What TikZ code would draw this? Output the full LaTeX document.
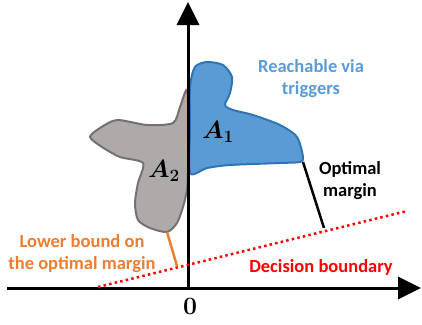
\documentclass[tikz,border=0pt]{standalone}
\usepackage{amsmath,amssymb,bm}
\usepackage[no-math]{fontspec}
\setmainfont{Carlito}
\usepackage{tikz}
\usetikzlibrary{arrows.meta,positioning}
\definecolor{reachblue}{HTML}{5B9BD5}
\definecolor{reachedge}{HTML}{2E75B6}
\definecolor{otherfill}{HTML}{AEAAAA}
\definecolor{otheredge}{HTML}{767171}
\definecolor{boundorange}{HTML}{ED7D31}

\begin{document}
\begin{tikzpicture}[x=1pt,y=-1pt,
  axis/.style={line width=3pt,-{Triangle[length=23pt,width=22pt]}},
  tagtext/.style={font=\fontsize{18.5}{22}\selectfont\bfseries,align=center,inner sep=0pt},
  settag/.style={font=\fontsize{26}{28}\selectfont,inner sep=0pt},
  regionA/.style={fill=reachblue,draw=reachedge,line width=2pt},
  regionB/.style={fill=otherfill,draw=otheredge,line width=2pt},
  margin/.style={line width=2.5pt}
]
  \useasboundingbox (0,0) rectangle (422,324);
  % regions
  \draw[regionB] plot[smooth cycle,tension=0.45] coordinates {
    (187,90) (180,107) (173,123) (147,125) (117,120) (100,128) (90,137)
    (102,147) (120,157) (143,163) (138,183) (135,203) (138,220) (150,228)
    (167,232) (177,223) (183,207) (187,190) (188,173) (189,130)};
  \draw[regionA] plot[smooth cycle,tension=0.45] coordinates {
    (190,87) (195,67) (207,62) (223,65) (232,77) (230,93) (225,105)
    (233,110) (253,115) (280,125) (297,137) (303,157) (300,162) (280,163)
    (230,165) (207,168) (190,173) (190,130)};
  % axes
  \coordinate (origin) at (188,288);
  \coordinate (ytip) at (188,2);
  \coordinate (xstart) at (7,288);
  \coordinate (xtip) at (421,288);
  \draw[axis] (origin) -- (ytip);
  \draw[axis] (xstart) -- (xtip);
  % decision boundary and margins
  \coordinate (bnd-s) at (98,287);
  \coordinate (bnd-e) at (407,211);
  \draw[red,line width=2.5pt,dash pattern=on 2.5pt off 3.2pt] (bnd-s) -- (bnd-e);
  \coordinate (opt-top) at (303,162);
  \coordinate (opt-foot) at (324,228);
  \draw[margin] (opt-top) -- (opt-foot);
  \coordinate (low-top) at (167,232);
  \coordinate (low-foot) at (177,266);
  \draw[margin,boundorange] (low-top) -- (low-foot);
  % labels
  \node[settag] (a1) at (218,132) {$\bm{A_1}$};
  \node[settag] (a2) at (164,171) {$\bm{A_2}$};
  \node[settag] (zero) at (190,306) {$\mathbf{0}$};
  \node[tagtext,text=reachblue] (reach) at (311,79) {Reachable via\\triggers};
  \node[tagtext] (opt) at (350,181) {Optimal\\margin};
  \node[tagtext,text=boundorange] (low) at (82,254) {Lower bound on\\the optimal\ margin};
  \node[tagtext,text=red] (dec) at (321,267) {Decision boundary};
\end{tikzpicture}
\end{document}
